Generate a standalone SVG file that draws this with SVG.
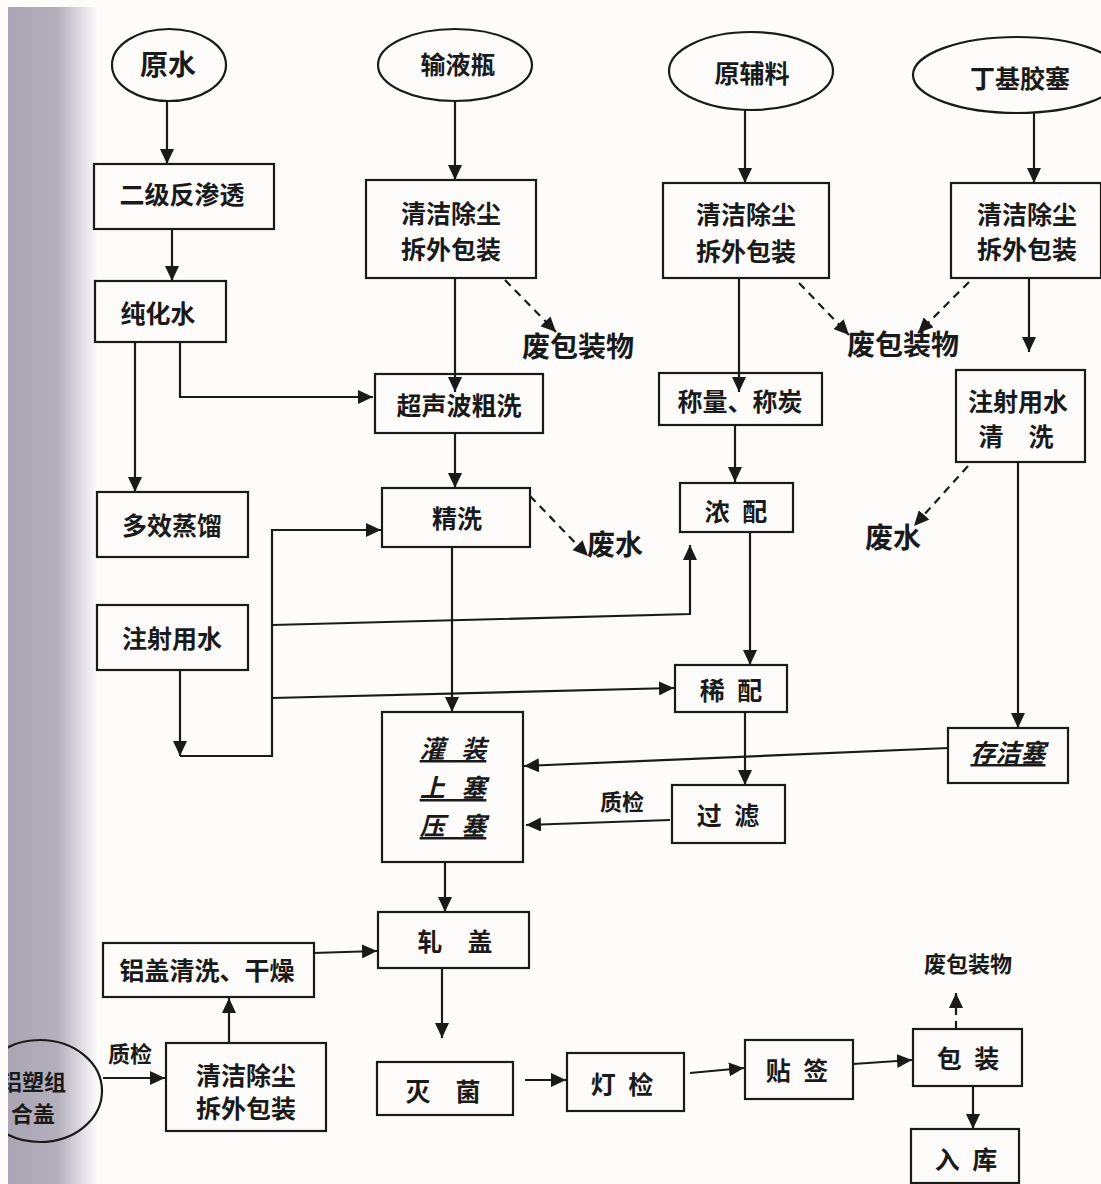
<svg xmlns="http://www.w3.org/2000/svg" width="1101" height="1184" viewBox="0 0 1101 1184">
<style>
.box{fill:none;stroke:#1a1a1a;stroke-width:2.2}
.t{font-family:"Noto Sans CJK SC","Noto Sans",sans-serif;font-size:25px;fill:#1a1a1a;text-anchor:middle;dominant-baseline:central;font-weight:bold}
.big{font-size:28px}
.sm{font-size:22px}
.sp{word-spacing:7px}
.sp2{word-spacing:11px}
.it{font-style:italic;text-decoration:underline}
.ln{fill:none;stroke:#1a1a1a;stroke-width:2.2}
.ar{marker-end:url(#ah)}
.da{stroke-dasharray:8 6}
</style>
<defs>
<marker id="ah" markerUnits="userSpaceOnUse" markerWidth="16" markerHeight="14" refX="15" refY="7" orient="auto">
<path d="M0,0 L15,7 L0,14 z" fill="#1a1a1a"/>
</marker>
<linearGradient id="strip" x1="0" y1="0" x2="1" y2="0">
<stop offset="0" stop-color="#a9a5b3"/>
<stop offset="0.55" stop-color="#b3afbc"/>
<stop offset="0.8" stop-color="#dcdae0"/>
<stop offset="1" stop-color="#fdfcfc"/>
</linearGradient>
<clipPath id="pg"><rect x="8" y="0" width="1093" height="1184"/></clipPath>
</defs>
<rect x="0" y="0" width="1101" height="1184" fill="#fdfcfb"/>
<rect x="8" y="7" width="90" height="1177" fill="url(#strip)"/>

<g id="connectors">
<path class="ln ar" d="M167,100 V164"/>
<path class="ln ar" d="M172,229 V281"/>
<path class="ln ar" d="M135,342 V492"/>
<path class="ln ar" d="M180,342 V397 H373"/>
<path class="ln ar" d="M455,101 V180"/>
<path class="ln ar" d="M455,278 V392"/>
<path class="ln ar da" d="M505,280 L556,332"/>
<path class="ln ar" d="M455,433 V488"/>
<path class="ln ar da" d="M530,496 L588,556"/>
<path class="ln ar" d="M452,547 V712"/>
<path class="ln ar" d="M180,670 V756"/>
<path class="ln ar" d="M180,756 H272 V530 H381"/>
<path class="ln ar" d="M272,625 L690,614 V545"/>
<path class="ln ar" d="M272,698 L674,688"/>
<path class="ln ar" d="M745,110 V183"/>
<path class="ln ar" d="M739,278 V392"/>
<path class="ln ar da" d="M799,283 L849,335"/>
<path class="ln ar" d="M1034,112 V183"/>
<path class="ln ar da" d="M969,282 L918,333"/>
<path class="ln ar" d="M1029,278 V352"/>
<path class="ln ar" d="M735,425 V482"/>
<path class="ln ar" d="M750,532 V665"/>
<path class="ln ar da" d="M968,466 L914,526"/>
<path class="ln ar" d="M1018,462 V728"/>
<path class="ln ar" d="M948,748 L524,766"/>
<path class="ln ar" d="M745,712 V785"/>
<path class="ln ar" d="M670,820 L526,825"/>
<path class="ln ar" d="M445,862 V912"/>
<path class="ln ar" d="M313,953 L377,951"/>
<path class="ln ar" d="M442,968 V1038"/>
<path class="ln ar" d="M103,1078 H165"/>
<path class="ln ar" d="M229,1043 V998"/>
<path class="ln ar" d="M525,1080 H566"/>
<path class="ln ar" d="M690,1073 L744,1068"/>
<path class="ln ar" d="M853,1064 L912,1060"/>
<path class="ln ar da" d="M956,1029 V993"/>
<path class="ln ar" d="M973,1086 V1129"/>
</g>

<g id="n-yuanshui"><ellipse class="box" cx="169" cy="65" rx="57" ry="36"/><text class="t big" x="168" y="63">原水</text></g>
<g id="n-shuyeping"><ellipse class="box" cx="455" cy="65" rx="77" ry="36"/><text class="t" x="458" y="63">输液瓶</text></g>
<g id="n-yuanfuliao"><ellipse class="box" cx="751" cy="71" rx="82" ry="39"/><text class="t" x="752" y="72">原辅料</text></g>
<g id="n-dingji"><ellipse class="box" cx="1017" cy="75" rx="104" ry="38"/><text class="t" x="1020" y="77">丁基胶塞</text></g>

<g id="n-erji"><rect class="box" x="94" y="164" width="180" height="65"/><text class="t" x="182" y="193">二级反渗透</text></g>
<g id="n-qj1"><rect class="box" x="366" y="180" width="170" height="98"/><text class="t" x="451" y="212">清洁除尘</text><text class="t" x="451" y="248">拆外包装</text></g>
<g id="n-qj2"><rect class="box" x="663" y="183" width="166" height="95"/><text class="t" x="746" y="213">清洁除尘</text><text class="t" x="746" y="250">拆外包装</text></g>
<g id="n-qj3"><rect class="box" x="951" y="183" width="150" height="95"/><text class="t" x="1027" y="213">清洁除尘</text><text class="t" x="1027" y="248">拆外包装</text></g>

<g id="n-chunhua"><rect class="box" x="95" y="281" width="131" height="61"/><text class="t" x="158" y="312">纯化水</text></g>
<g id="n-chaosheng"><rect class="box" x="375" y="374" width="168" height="59"/><text class="t" x="459" y="404">超声波粗洗</text></g>
<g id="n-chengliang"><rect class="box" x="659" y="373" width="163" height="52"/><text class="t" x="740" y="400">称量、称炭</text></g>
<g id="n-zsqx"><rect class="box" x="956" y="370" width="129" height="92"/><text class="t" x="1018" y="400">注射用水</text><text class="t" x="1016" y="435">清　洗</text></g>

<g id="n-duoxiao"><rect class="box" x="97" y="492" width="151" height="65"/><text class="t" x="172" y="524">多效蒸馏</text></g>
<g id="n-jingxi"><rect class="box" x="382" y="488" width="148" height="59"/><text class="t" x="457" y="517">精洗</text></g>
<g id="n-nongpei"><rect class="box" x="680" y="483" width="113" height="49"/><text class="t sp" x="736" y="510">浓 配</text></g>

<g id="n-zhushe"><rect class="box" x="97" y="605" width="151" height="65"/><text class="t" x="172" y="637">注射用水</text></g>
<g id="n-xipei"><rect class="box" x="675" y="665" width="112" height="47"/><text class="t sp" x="731" y="689">稀 配</text></g>
<g id="n-guanzhuang"><rect class="box" x="382" y="712" width="141" height="150"/><text class="t it sp2" x="453" y="747">灌 装</text><text class="t it sp2" x="453" y="786">上 塞</text><text class="t it sp2" x="453" y="824">压 塞</text></g>
<g id="n-cunjie"><rect class="box" x="948" y="728" width="120" height="55"/><text class="t it" x="1008" y="751">存洁塞</text></g>
<g id="n-guolv"><rect class="box" x="672" y="785" width="113" height="58"/><text class="t sp" x="728" y="814">过 滤</text></g>

<g id="n-zhagai"><rect class="box" x="378" y="912" width="151" height="56"/><text class="t" x="455" y="940">轧　盖</text></g>
<g id="n-lvgai"><rect class="box" x="103" y="943" width="211" height="54"/><text class="t" x="207" y="969">铝盖清洗、干燥</text></g>
<g id="n-lvsu" clip-path="url(#pg)"><ellipse class="box" cx="40" cy="1091" rx="62" ry="51"/><text class="t sm" x="33" y="1080">铝塑组</text><text class="t sm" x="33" y="1112">合盖</text></g>
<g id="n-qj4"><rect class="box" x="166" y="1043" width="160" height="88"/><text class="t" x="246" y="1074">清洁除尘</text><text class="t" x="246" y="1107">拆外包装</text></g>
<g id="n-miejun"><rect class="box" x="377" y="1062" width="136" height="53"/><text class="t" x="443" y="1090">灭　菌</text></g>
<g id="n-dengjian"><rect class="box" x="567" y="1053" width="117" height="58"/><text class="t sp" x="622" y="1083">灯 检</text></g>
<g id="n-tieqian"><rect class="box" x="745" y="1040" width="108" height="59"/><text class="t sp" x="797" y="1069">贴 签</text></g>
<g id="n-baozhuang"><rect class="box" x="913" y="1029" width="109" height="57"/><text class="t sp" x="968" y="1057">包 装</text></g>
<g id="n-ruku"><rect class="box" x="911" y="1129" width="108" height="54"/><text class="t sp" x="966" y="1158">入 库</text></g>

<g id="labels">
<text class="t big" x="578" y="345">废包装物</text>
<text class="t big" x="903" y="343">废包装物</text>
<text class="t big" x="615" y="543">废水</text>
<text class="t big" x="893" y="536">废水</text>
<text class="t sm" x="622" y="800">质检</text>
<text class="t sm" x="130" y="1052">质检</text>
<text class="t sm" x="968" y="962">废包装物</text>
</g>
</svg>
